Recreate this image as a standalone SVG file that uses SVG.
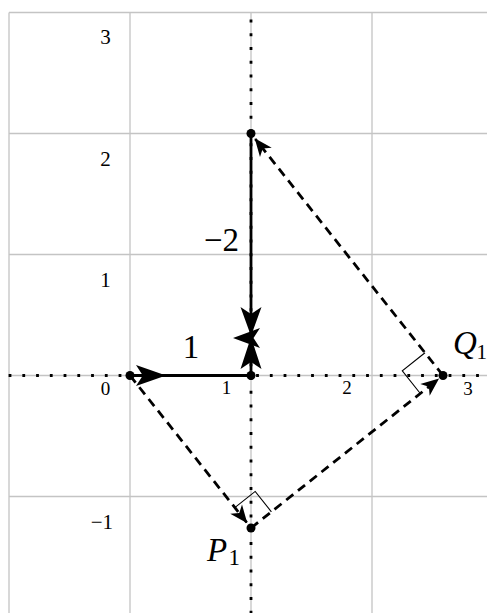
<svg xmlns="http://www.w3.org/2000/svg" width="487" height="613" viewBox="0 0 487 613">
<style>
.grid{stroke:#c4c4c4;stroke-width:1.3;fill:none}
.axis{stroke:#000;stroke-width:2.8;stroke-dasharray:2.8 10.95;fill:none}
.solid{stroke:#000;stroke-width:2.8;fill:none;stroke-linejoin:miter}
.dash{stroke:#000;stroke-width:2.8;stroke-dasharray:9 6;fill:none}
.ra{stroke:#000;stroke-width:1.1;fill:none}
.pt{fill:#000}
.head{fill:#000}
text{font-family:'Liberation Serif','DejaVu Serif',serif;fill:#000}
.big{font-size:33px}
</style>
<defs>
<marker id="st" markerUnits="userSpaceOnUse" markerWidth="40" markerHeight="40" refX="0" refY="0" orient="auto" overflow="visible">
<path d="M1,0 L-17,-7.5 L-12,0 L-17,7.5 Z" fill="#000"/>
</marker>
</defs>
<rect width="487" height="613" fill="#fff"/>
<g id="grid">
<path class="grid" d="M9,12.5V613M130,12.5V613M251,12.5V613M372,12.5V613M9,12.5H487M9,133.5H487M9,254.5H487M9,375.5H487M9,496.5H487"/>
</g>
<g id="axes">
<path class="axis" d="M8.6,375.5H487"/>
<path class="axis" d="M251,19.6V613"/>
</g>
<g id="ticks" font-family="Liberation Serif, DejaVu Serif, serif">
<text font-size="19" text-anchor="middle" x="105.5" y="395">0</text>
<text font-size="19" text-anchor="middle" x="226.5" y="394">1</text>
<text font-size="19" text-anchor="middle" x="347" y="394">2</text>
<text font-size="19" text-anchor="middle" x="468" y="394.5">3</text>
<text font-size="21" text-anchor="middle" x="105.5" y="44">3</text>
<text font-size="21" text-anchor="middle" x="105.5" y="166">2</text>
<text font-size="21" text-anchor="middle" x="105.5" y="287">1</text>
<text font-size="21" text-anchor="end" x="113" y="529">−1</text>
</g>
<g id="connectors">
<path class="solid" d="M130,375.5H251V133.5"/>
<path class="dash" d="M130,375.5L246.7,522.5" marker-end="url(#st)"/>
<path class="dash" d="M251,528L438.3,379.2" marker-end="url(#st)"/>
<path class="dash" d="M443,375.5L255.3,139" marker-end="url(#st)"/>
<path class="head" d="M166,375.5L136,365L142.8,375.5L136,386Z"/>
<path class="head" d="M251,336L240.5,307L251,314L261.5,307Z"/>
<path class="head" d="M251,337L240.5,369L251,362L261.5,369Z"/>
<path class="head" d="M233,338L260,328L253.5,338L260,348Z"/>
</g>
<g id="right-angles">
<path class="ra" d="M234.8,507.6L255.2,491.4L271.4,511.8"/>
<path class="ra" d="M420.3,393.5L402.3,370.8L425,352.8"/>
</g>
<g id="node-O"><circle class="pt" cx="130" cy="375.5" r="4.5"/></g>
<g id="node-B"><circle class="pt" cx="251" cy="375.5" r="4.5"/></g>
<g id="node-C"><circle class="pt" cx="251" cy="133.5" r="4.5"/></g>
<g id="node-Q1"><circle class="pt" cx="443" cy="375.5" r="4.5"/>
<text class="big" font-family="Liberation Serif, DejaVu Serif, serif" x="453" y="354"><tspan font-style="italic">Q</tspan><tspan font-size="21" x="476.5" dy="5">1</tspan></text></g>
<g id="node-P1"><circle class="pt" cx="251" cy="528" r="4.5"/>
<text class="big" font-family="Liberation Serif, DejaVu Serif, serif" x="207" y="561"><tspan font-style="italic">P</tspan><tspan font-size="23" x="228.5" dy="4">1</tspan></text></g>
<g id="labels" font-family="Liberation Serif, DejaVu Serif, serif">
<text class="big" text-anchor="middle" x="191" y="357.5">1</text>
<text class="big" text-anchor="end" x="239" y="251">−2</text>
</g>
</svg>
